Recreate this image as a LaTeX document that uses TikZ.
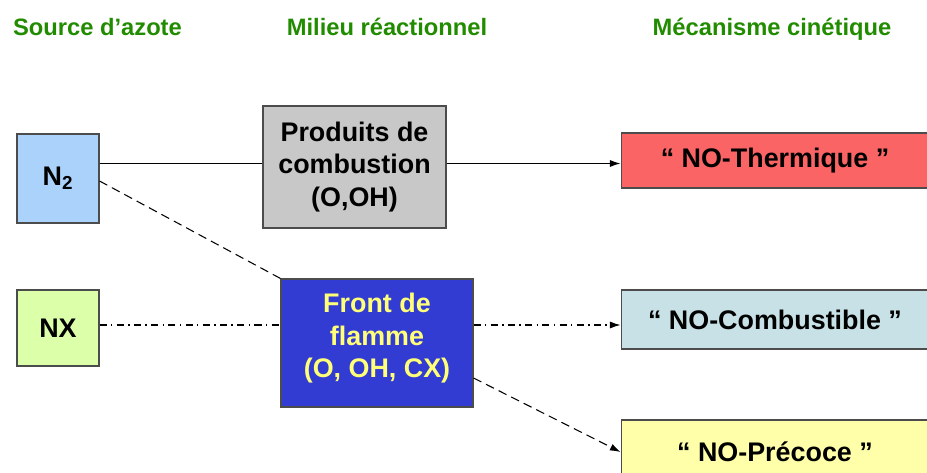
\documentclass[tikz,border=0pt]{standalone}
\usepackage{fontspec}
\setmainfont{Liberation Sans}
\usetikzlibrary{arrows.meta}
\definecolor{titlegreen}{RGB}{34,140,0}
\definecolor{sourceblue}{RGB}{170,210,250}
\definecolor{sourcegreen}{RGB}{220,255,170}
\definecolor{milieugray}{RGB}{200,200,200}
\definecolor{flammeblue}{RGB}{50,60,210}
\definecolor{flammeyellow}{RGB}{255,255,120}
\definecolor{thermred}{RGB}{250,100,100}
\definecolor{combblue}{RGB}{200,225,230}
\definecolor{precyellow}{RGB}{255,255,170}

\tikzset{
	boxtext/.style={draw=black!70, line width=0.6pt, align=center, inner sep=0pt,
		font=\fontsize{15.3}{18.7}\selectfont\bfseries},
	headtext/.style={titlegreen, anchor=base, font=\fontsize{13.5}{16}\selectfont\bfseries},
	flow/.style={line width=0.6pt},
	tip/.style={-{Latex[length=6pt, width=4pt]}}
}

\begin{document}
\begin{tikzpicture}[x=0.02cm, y=-0.02cm]

	\clip (0,0) rectangle (927,473);
	\fill[white] (0,0) rectangle (927,473);

	% Column titles
	\node[headtext] (tsource) at (97.5,35.5) {Source d’azote};
	\node[headtext] (tmilieu) at (387,35.5) {Milieu réactionnel};
	\node[headtext] (tmeca) at (772,35.5) {Mécanisme cinétique};

	% Sources
	\node[boxtext, fill=sourceblue, minimum width=1.64cm, minimum height=1.78cm]
		(n2) at (58,178.5) {N\textsubscript{2}};
	\node[boxtext, fill=sourcegreen, minimum width=1.64cm, minimum height=1.52cm]
		(nx) at (58,328) {NX};

	% Milieux
	\node[boxtext, fill=milieugray, minimum width=3.66cm, minimum height=2.44cm]
		(produits) at (354.5,167) {Produits de\\combustion\\(O,OH)};
	\node[boxtext, fill=flammeblue, text=flammeyellow, minimum width=3.84cm, minimum height=2.56cm]
		(front) at (377,343) {Front de\\flamme\\(O, OH, CX)\\[-10pt]};

	% Mecanismes
	\node[boxtext, fill=thermred, minimum width=6.16cm, minimum height=1.1cm]
		(thermique) at (775,160.5) {“ NO-Thermique ”};
	\node[boxtext, fill=combblue, minimum width=6.16cm, minimum height=1.18cm]
		(combustible) at (775,319.5) {“ NO-Combustible ”};
	\node[boxtext, fill=precyellow, minimum width=6.16cm, minimum height=1.28cm]
		(precoce) at (775,452) {“ NO-Précoce ”};

	% Connectors
	\coordinate (n2out) at ([yshift=0.3cm]n2.east);
	\draw[flow] (n2out) -- (n2out -| produits.west);
	\draw[flow, tip] (n2out -| produits.east) -- (n2out -| thermique.west);
	\draw[flow, dash pattern=on 5pt off 3pt] ([yshift=-0.05cm]n2.east) -- (front.north west);
	\draw[flow, dash pattern=on 4pt off 2.5pt on 0.8pt off 2.5pt]
		([yshift=0.06cm]nx.east) -- ([yshift=0.06cm]nx.east -| front.west);
	\draw[flow, tip, dash pattern=on 4pt off 2.5pt on 0.8pt off 2.5pt]
		([yshift=0.06cm]nx.east -| front.east) -- ([yshift=0.06cm]nx.east -| combustible.west);
	\draw[flow, tip, dash pattern=on 5pt off 3pt] ([yshift=-0.7cm]front.east) -- (precoce.west);

\end{tikzpicture}
\end{document}
